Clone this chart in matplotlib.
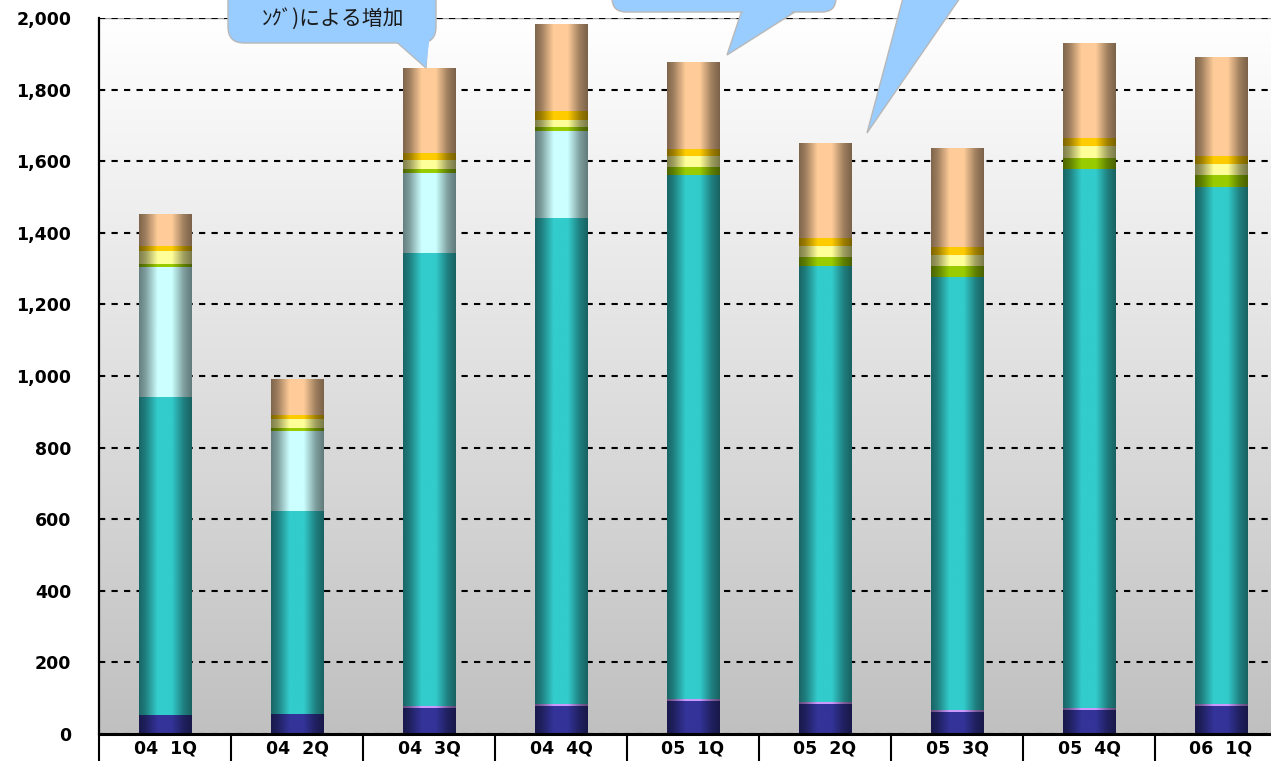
import numpy as np
import matplotlib
matplotlib.use("Agg")
import matplotlib.pyplot as plt
from matplotlib.colors import to_rgb
from matplotlib.patches import FancyBboxPatch, Polygon

plt.rcParams['font.family'] = ['DejaVu Sans', 'Noto Sans CJK JP']

quarters = ["04 1Q", "04 2Q", "04 3Q", "04 4Q", "05 1Q", "05 2Q", "05 3Q", "05 4Q", "06 1Q"]

# stacked series, bottom to top
navy = [53, 56, 72, 78, 93, 84, 61, 67, 78]
pink = [0, 0, 5, 5, 5, 4, 6, 6, 6]
teal = [888, 567, 1266, 1358, 1463, 1219, 1209, 1505, 1444]
cyan = [363, 223, 224, 243, 0, 0, 0, 0, 0]
green = [9, 9, 11, 11, 23, 25, 31, 31, 33]
yellow = [36, 25, 25, 20, 30, 31, 31, 33, 31]
gold = [14, 11, 20, 25, 20, 22, 22, 23, 22]
tan = [89, 101, 237, 243, 243, 266, 277, 265, 277]

series = [navy, pink, teal, cyan, green, yellow, gold, tan]
colors = ["#333399", "#CC99FF", "#33CCCC", "#CCFFFF", "#99CC00", "#FFFF99", "#FFCC00", "#FFCC99"]

W, H = 1271, 761
fig = plt.figure(figsize=(W / 100, H / 100), dpi=100)
fig.patch.set_facecolor("white")
ax = fig.add_axes([99 / W, 27 / H, 1188 / W, 716 / H])

# background gradient (white top -> gray bottom)
g = np.linspace(0.753, 1.0, 256)[::-1].reshape(-1, 1)
bg = np.dstack([g, g, g])
ax.imshow(bg, extent=[0, 1, 0, 1], transform=ax.transAxes, aspect="auto", zorder=0)

x = np.arange(len(quarters))
bw = 0.394
profile = np.interp(np.linspace(0, 1, 80), [0, 0.12, 0.35, 0.62, 0.85, 1], [0.5, 0.62, 1.0, 1.0, 0.62, 0.48])

bottom = np.zeros(len(quarters))
for vals, col in zip(series, colors):
    vals = np.array(vals, dtype=float)
    bars = ax.bar(x, vals, bw, bottom=bottom, color=col, linewidth=0, zorder=2)
    base = np.array(to_rgb(col))
    img = (profile[:, None] * base[None, :])[None, :, :]
    for b, v in zip(bars, vals):
        if v <= 0:
            continue
        im = ax.imshow(img, extent=[b.get_x(), b.get_x() + b.get_width(), b.get_y(), b.get_y() + b.get_height()],
                       aspect="auto", interpolation="bilinear", zorder=2.5)
        im.set_clip_path(b)
    bottom += vals

ax.set_xlim(-0.5, len(quarters) - 0.5)
ax.set_ylim(0, 2000)
ax.set_yticks(np.arange(0, 2001, 200))
ax.set_yticklabels([f"{v:,}" for v in range(0, 2001, 200)], fontsize=12.5, fontweight="bold")
ax.tick_params(axis="y", length=0, pad=20)
ax.yaxis.grid(True, color="black", linestyle=(0, (3, 3)), linewidth=1.5)
ax.set_axisbelow(True)
ax.axhline(2000, color="#A0A0A0", lw=1, zorder=0.4)

ax.set_xticks(np.arange(-0.5, len(quarters)), minor=False)
ax.set_xticklabels([])
ax.tick_params(axis="x", which="major", length=22, width=1.5, color="black", direction="out")
ax.set_xticks(x, minor=True)
ax.set_xticklabels([q.replace(" ", "  ") for q in quarters], minor=True, fontsize=12.5, fontweight="bold")
ax.tick_params(axis="x", which="minor", length=0, pad=4)

for s in ["top", "right"]:
    ax.spines[s].set_visible(False)
ax.spines["left"].set_linewidth(1.6)
ax.spines["bottom"].set_linewidth(2.2)

# callouts overlay in pixel coordinates
ov = fig.add_axes([0, 0, 1, 1], zorder=10)
ov.set_xlim(0, W)
ov.set_ylim(H, 0)
ov.axis("off")
ov.patch.set_alpha(0)

fill = "#99CCFF"
edge = "#B8B8B8"
ov.add_patch(Polygon([(392, 38), (428, 36), (426, 68)], closed=True, fc=fill, ec=edge, lw=1))
ov.add_patch(FancyBboxPatch((228, -60), 208, 103, boxstyle="round,pad=0,rounding_size=16",
                            fc=fill, ec=edge, lw=1))
ov.add_patch(Polygon([(392, 37), (430, 35), (426, 67)], closed=True, fc=fill, ec="none"))
ov.text(333, 19, "ﾝｸﾞ)による増加", ha="center", va="center", fontsize=15,
        family=["Noto Sans CJK JP", "DejaVu Sans"], color="#1A1A1A")

ov.add_patch(Polygon([(742, 10), (798, 10), (727, 55)], closed=True, fc=fill, ec=edge, lw=1))
ov.add_patch(FancyBboxPatch((612, -60), 224, 72, boxstyle="round,pad=0,rounding_size=14",
                            fc=fill, ec=edge, lw=1))
ov.add_patch(Polygon([(744, 9), (796, 9), (730, 51)], closed=True, fc=fill, ec="none"))

ov.add_patch(Polygon([(903, -2), (960, -2), (867, 133)], closed=True, fc=fill, ec=edge, lw=1))

fig.savefig("out.png", dpi=100)
